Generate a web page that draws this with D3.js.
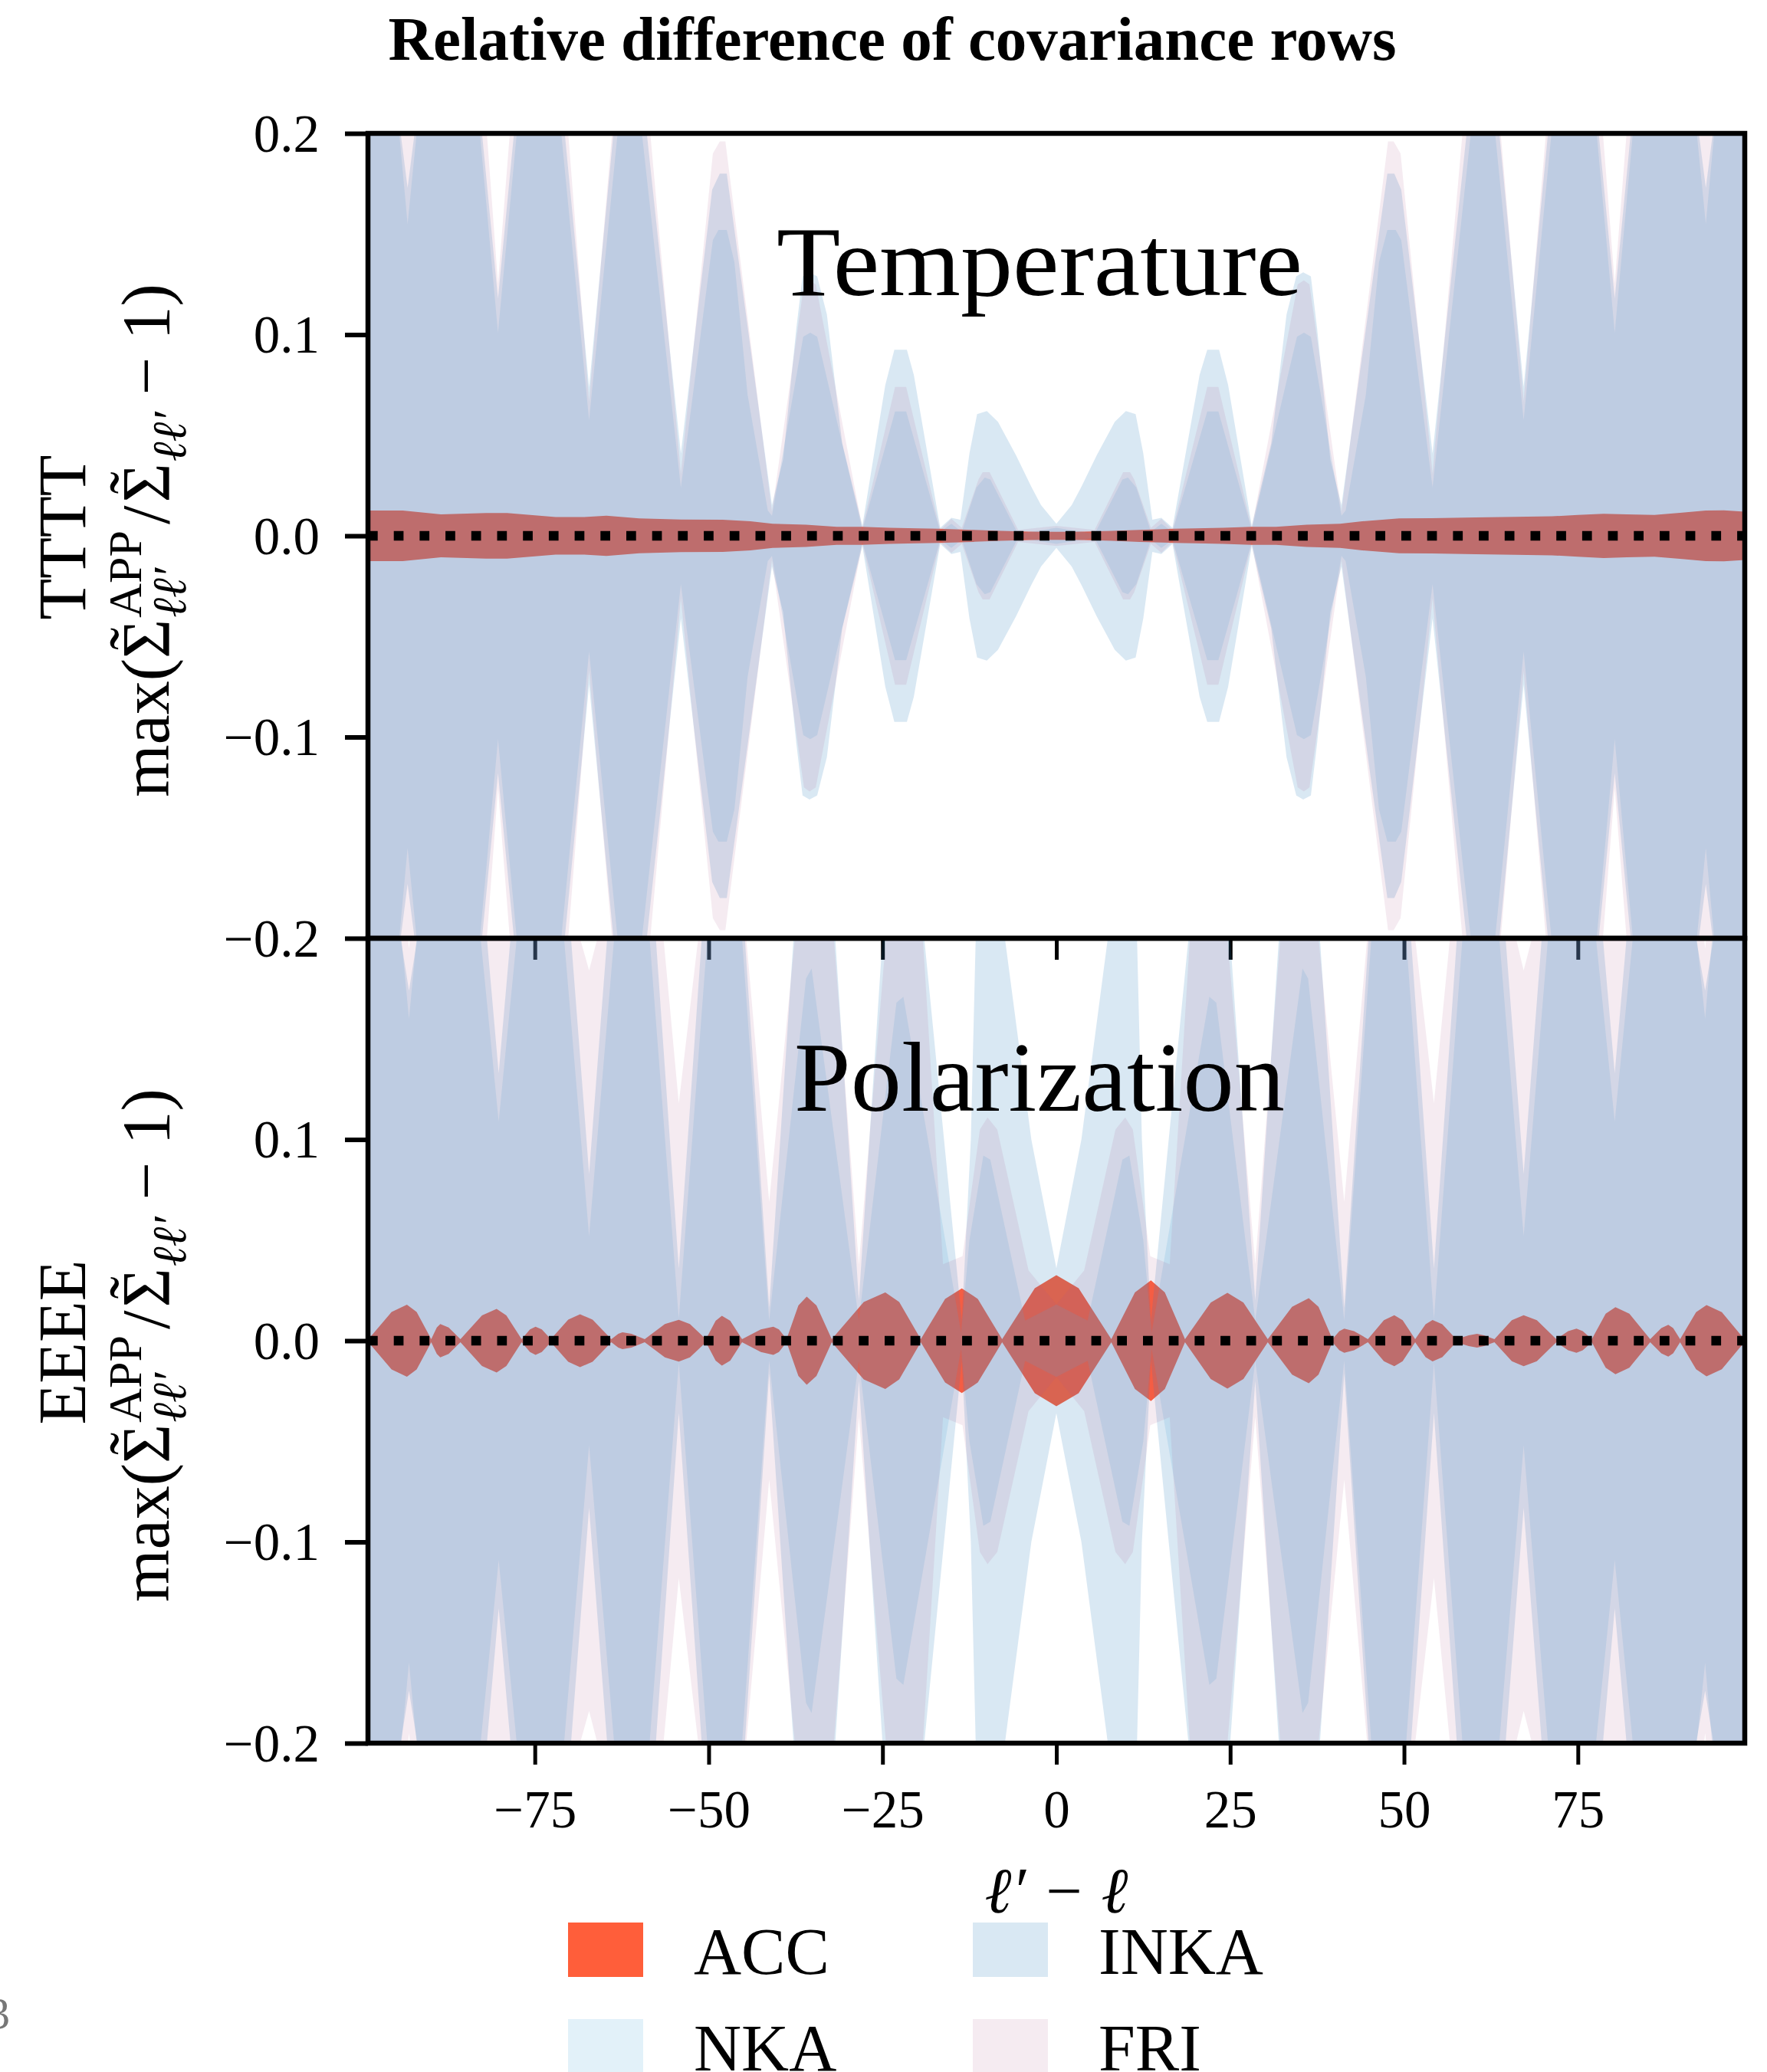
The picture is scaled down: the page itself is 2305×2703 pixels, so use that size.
<!DOCTYPE html>
<html>
<head>
<meta charset="utf-8">
<title>Relative difference of covariance rows</title>
<script src="https://cdnjs.cloudflare.com/ajax/libs/d3/7.8.5/d3.min.js"></script>
<style>
  body { margin: 0; background: #fff; }
  svg { display: block; }
  text { font-family: "Liberation Serif", "DejaVu Serif", serif; fill: #000; }
</style>
</head>
<body>
<script>
// half-widths of the symmetric bands, [l' - l, value]
var ttACC = [[-99,0.0126],[-94,0.0126],[-88.5,0.0107],[-82,0.0113],[-79,0.0113],[-72,0.0093],[-68,0.0093],[-64.7,0.0100],[-60,0.0087],[-54,0.0081],[-48,0.008],[-44,0.0072],[-40.8,0.006],[-36,0.0055],[-31.6,0.0045],[-28,0.0045],[-24,0.004],[-20,0.0037],[-16.9,0.0035],[-12,0.003],[-8,0.0025],[-4,0.0021],[0,0.002],[4,0.0021],[8,0.0025],[12,0.003],[16.9,0.0035],[20,0.0037],[24,0.004],[28,0.0045],[31.6,0.0045],[36,0.0055],[40.8,0.006],[44,0.0072],[49.3,0.0087],[54,0.0088],[60.3,0.0091],[66,0.0094],[71.3,0.0097],[75,0.0104],[78.7,0.011],[82,0.0107],[86,0.0104],[90,0.0115],[93.4,0.0126],[96,0.0127],[99,0.012]];

var ttNKA = [[-99,0.34],[-94.5,0.2],[-93.3,0.155],[-92.0,0.2],[-86.8,0.34],[-82.9,0.2],[-80.3,0.101],[-77.6,0.2],[-73.7,0.34],[-71.2,0.2],[-67.2,0.0575],[-63.1,0.2],[-60.6,0.34],[-59.6,0.2],[-54.0,0.024],[-49.4,0.147],[-48.6,0.152],[-47.4,0.152],[-46.3,0.136],[-44.4,0.070],[-41.5,0.0126],[-40.9,0.010],[-36.4,0.099],[-35.4,0.101],[-34.4,0.099],[-27.9,0.003],[-23.2,0.0618],[-21.6,0.0618],[-16.7,0.002],[-15.1,0.006],[-13.6,0.002],[-11.5,0.024],[-10.3,0.029],[-9.5,0.028],[-5.5,0.001],[0,0.004],[5.5,0.001],[9.5,0.028],[10.3,0.029],[11.5,0.024],[13.6,0.002],[15.1,0.006],[16.7,0.002],[21.7,0.0618],[23.3,0.0618],[28.1,0.003],[34.6,0.099],[35.6,0.101],[36.6,0.099],[41.0,0.010],[41.6,0.0126],[44.5,0.070],[46.4,0.136],[47.6,0.152],[48.8,0.152],[49.6,0.147],[54.1,0.024],[59.6,0.2],[60.7,0.34],[63.1,0.2],[67.2,0.0575],[71.2,0.2],[73.8,0.34],[77.7,0.2],[80.3,0.101],[82.9,0.2],[86.9,0.34],[92.1,0.2],[93.4,0.155],[94.6,0.2],[99,0.34]];

var ttINKA = [[-99,0.34],[-94.3,0.2],[-93.3,0.173],[-92.3,0.2],[-86.8,0.34],[-82.6,0.2],[-80.3,0.118],[-78.0,0.2],[-73.7,0.34],[-70.7,0.2],[-67.2,0.074],[-63.7,0.2],[-60.6,0.34],[-58.9,0.2],[-54.0,0.041],[-49.5,0.172],[-48.4,0.18],[-47.4,0.18],[-40.9,0.0152],[-39.3,0.038],[-37.4,0.103],[-36.5,0.129],[-35.5,0.131],[-34.4,0.129],[-33.0,0.11],[-30.8,0.046],[-27.9,0.005],[-24.6,0.075],[-23.3,0.0925],[-21.5,0.0925],[-20.5,0.08],[-16.7,0.004],[-15.1,0.009],[-13.8,0.008],[-12.5,0.041],[-11.4,0.0605],[-10.0,0.062],[-8.4,0.0567],[-5.8,0.040],[-3.6,0.0244],[-2.2,0.0152],[0,0.006],[2.2,0.0152],[3.6,0.0244],[5.8,0.040],[8.4,0.0567],[10.0,0.062],[11.4,0.0605],[12.5,0.041],[13.8,0.008],[15.1,0.009],[16.7,0.004],[20.6,0.08],[21.7,0.0925],[23.4,0.0925],[24.7,0.075],[28.1,0.005],[30.9,0.046],[33.1,0.11],[34.5,0.129],[35.5,0.131],[36.6,0.129],[37.5,0.103],[39.4,0.038],[41.0,0.0152],[47.6,0.18],[48.6,0.18],[49.6,0.172],[54.1,0.041],[59.0,0.2],[60.6,0.34],[63.7,0.2],[67.2,0.074],[70.7,0.2],[73.8,0.34],[78.0,0.2],[80.3,0.118],[82.6,0.2],[86.9,0.34],[92.4,0.2],[93.4,0.173],[94.4,0.2],[99,0.34]];

var ttFRI = [[-99,0.34],[-93.3,0.22],[-86.8,0.34],[-81.9,0.2],[-80.3,0.1254],[-78.6,0.2],[-73.7,0.34],[-70.2,0.2],[-67.2,0.067],[-63.9,0.2],[-60.6,0.34],[-58.4,0.2],[-54.0,0.031],[-49.4,0.19],[-48.4,0.196],[-47.6,0.196],[-40.9,0.012],[-36.3,0.125],[-35.5,0.127],[-34.6,0.125],[-27.9,0.004],[-23.2,0.074],[-21.6,0.074],[-16.7,0.003],[-15.1,0.0085],[-13.6,0.004],[-11.2,0.028],[-10.6,0.0316],[-9.6,0.0316],[-5.5,0.003],[0,0.005],[5.5,0.003],[9.6,0.0316],[10.6,0.0316],[11.2,0.028],[13.6,0.004],[15.1,0.0085],[16.7,0.003],[21.7,0.074],[23.3,0.074],[28.1,0.004],[34.7,0.125],[35.6,0.127],[36.4,0.125],[41.0,0.012],[47.7,0.196],[48.5,0.196],[49.5,0.19],[54.1,0.031],[58.4,0.2],[60.7,0.34],[63.9,0.2],[67.2,0.067],[70.4,0.2],[73.8,0.34],[78.6,0.2],[80.3,0.1254],[82.0,0.2],[86.9,0.34],[93.4,0.22],[99,0.34]];

var eeACC = [[-99,0.0005],[-95.6,0.0143],[-93.4,0.0179],[-92.0,0.0143],[-89.9,0.0008],[-89.1,0.0066],[-88.6,0.0083],[-87.4,0.0066],[-85.7,0.0008],[-82.6,0.0126],[-80.5,0.0158],[-79.1,0.0126],[-76.9,0.0008],[-75.7,0.0056],[-74.9,0.007],[-74.0,0.0056],[-72.7,0.0008],[-70.2,0.0105],[-68.5,0.0131],[-66.7,0.0105],[-64.0,0.0008],[-63.0,0.0034],[-62.4,0.0042],[-61.1,0.0034],[-59.2,0.0008],[-56.3,0.0083],[-54.3,0.0104],[-52.7,0.0083],[-50.4,0.0008],[-49.0,0.0099],[-48.1,0.0124],[-46.9,0.0099],[-45.2,0.0008],[-42.5,0.0056],[-40.7,0.007],[-39.9,0.0056],[-38.8,0.0008],[-37.1,0.0175],[-35.9,0.0219],[-34.5,0.0175],[-32.3,0.0008],[-27.7,0.0192],[-24.6,0.024],[-22.6,0.0192],[-19.5,0.0008],[-16.0,0.0208],[-13.6,0.026],[-11.3,0.0208],[-7.8,0.0008],[-3.1,0.0261],[0,0.0326],[3.2,0.0261],[7.9,0.0008],[11.3,0.024],[13.6,0.030],[15.6,0.024],[18.5,0.0008],[22.2,0.019],[24.6,0.0238],[26.9,0.019],[30.4,0.0008],[33.9,0.0169],[36.3,0.0211],[37.7,0.0169],[39.7,0.0008],[40.7,0.0048],[41.4,0.006],[42.8,0.0048],[44.8,0.0008],[47.1,0.0102],[48.6,0.0127],[49.8,0.0102],[51.6,0.0008],[53.1,0.0082],[54.1,0.0103],[55.5,0.0082],[57.5,0.0008],[59.3,0.0027],[60.5,0.0034],[61.5,0.0027],[63.0,0.0008],[65.5,0.0102],[67.2,0.0127],[69.1,0.0102],[71.9,0.0008],[73.6,0.0048],[74.8,0.006],[75.7,0.0048],[77.0,0.0008],[79.0,0.0134],[80.4,0.0167],[82.4,0.0134],[85.4,0.0008],[87.0,0.0063],[88.0,0.0079],[88.7,0.0063],[89.7,0.0008],[92.0,0.0142],[93.5,0.0177],[95.7,0.0142],[99,0.0005]];

var eeNKA = [[-99,0.34],[-94.2,0.2],[-93.1,0.16],[-92.0,0.2],[-86.6,0.34],[-82.8,0.2],[-80.2,0.109],[-77.6,0.2],[-73.7,0.34],[-70.8,0.2],[-67.2,0.052],[-63.6,0.2],[-60.8,0.34],[-58.5,0.2],[-54.3,0.011],[-50.2,0.2],[-47.8,0.34],[-45.2,0.2],[-41.3,0.01],[-36.0,0.18],[-35.2,0.185],[-28.4,0.01],[-23.0,0.168],[-22.0,0.171],[-13.7,0.004],[-12.5,0.05],[-10.5,0.092],[-9.5,0.09],[-4.5,0.01],[0,0.018],[4.5,0.01],[9.5,0.09],[10.5,0.092],[12.5,0.05],[13.7,0.004],[22.0,0.171],[23.0,0.168],[28.6,0.01],[35.4,0.185],[36.2,0.18],[41.4,0.01],[45.3,0.2],[47.9,0.34],[50.3,0.2],[54.3,0.011],[58.4,0.2],[60.8,0.34],[63.7,0.2],[67.2,0.052],[70.7,0.2],[73.8,0.34],[77.6,0.2],[80.3,0.109],[82.9,0.2],[86.7,0.34],[92.1,0.2],[93.3,0.16],[94.3,0.2],[99,0.34]];

var eeINKA = [[-99,0.34],[-94.3,0.2],[-93.1,0.174],[-91.9,0.2],[-86.6,0.34],[-81.9,0.2],[-80.2,0.133],[-78.5,0.2],[-73.7,0.34],[-69.8,0.2],[-67.2,0.083],[-64.6,0.2],[-60.8,0.34],[-57.6,0.2],[-54.3,0.036],[-51.0,0.2],[-47.8,0.34],[-44.8,0.2],[-41.3,0.0165],[-37.8,0.2],[-35.0,0.34],[-31.8,0.2],[-28.4,0.02],[-25.0,0.2],[-22.0,0.34],[-19.0,0.2],[-13.6,0.01],[-12.3,0.1],[-11.6,0.2],[-10.0,0.34],[-7.4,0.2],[-3.6,0.1],[0,0.036],[3.6,0.1],[7.4,0.2],[10,0.34],[11.6,0.2],[12.3,0.1],[13.6,0.01],[19.0,0.2],[22,0.34],[25,0.2],[28.6,0.02],[32,0.2],[35.2,0.34],[37.9,0.2],[41.4,0.0165],[44.9,0.2],[47.9,0.34],[51,0.2],[54.3,0.036],[57.6,0.2],[60.8,0.34],[64.6,0.2],[67.2,0.083],[69.8,0.2],[73.8,0.34],[78.6,0.2],[80.3,0.133],[82.0,0.2],[86.7,0.34],[92,0.2],[93.3,0.174],[94.5,0.2],[99,0.34]];

var eeFRI = [[-99,0.34],[-93.8,0.22],[-93.1,0.195],[-92.4,0.22],[-86.6,0.34],[-80.2,0.25],[-73.7,0.34],[-68.5,0.2],[-67.2,0.184],[-66.0,0.2],[-60.8,0.34],[-56.5,0.2],[-54.3,0.118],[-51.5,0.2],[-47.8,0.34],[-44.6,0.2],[-41.3,0.069],[-37.6,0.2],[-35.0,0.34],[-32.0,0.2],[-28.4,0.038],[-24.5,0.2],[-22.0,0.3],[-19.2,0.2],[-16.3,0.038],[-13.5,0.042],[-11.0,0.105],[-9.9,0.111],[-8.5,0.105],[-4,0.035],[0,0.018],[4,0.035],[8.5,0.105],[9.9,0.111],[11.0,0.105],[13.5,0.042],[16.3,0.038],[19.2,0.2],[22,0.3],[24.6,0.2],[28.6,0.038],[32.2,0.2],[35.2,0.34],[37.7,0.2],[41.4,0.069],[44.7,0.2],[47.9,0.34],[51.6,0.2],[54.3,0.118],[56.6,0.2],[60.8,0.34],[66.1,0.2],[67.2,0.184],[68.4,0.2],[73.8,0.34],[80.3,0.25],[86.7,0.34],[92.5,0.22],[93.3,0.195],[94.1,0.22],[99,0.34]];

var seriesNames = ['ACC', 'NKA', 'INKA', 'FRI'];
var seriesColors = ['#ff5e3a', '#5fb0e0', '#2f7fbf', '#b05a88'];
var seriesAlpha = [1, 0.18, 0.18, 0.12];
var xTicks = [-75, -50, -25, 0, 25, 50, 75];
var yTicksTop = [-0.2, -0.1, 0.0, 0.1, 0.2];
var yTicksBottom = [-0.2, -0.1, 0.0, 0.1];

var W = 2305, H = 2703;
var svg = d3.select('body').append('svg').attr('width', W).attr('height', H);
svg.append('rect').attr('width', W).attr('height', H).attr('fill', '#fff');

var x = d3.scaleLinear().domain([-99, 99]).range([480, 2276]);
var MAIN = 88, SCRIPT = 62;

var panels = [
  { id: 'tt', top: 174, bottom: 1224, yTicks: yTicksTop, label: 'TTTT', name: 'Temperature', nameY: 385, nameW: 686,
    data: [ttACC, ttNKA, ttINKA, ttFRI] },
  { id: 'ee', top: 1224, bottom: 2274, yTicks: yTicksBottom, label: 'EEEE', name: 'Polarization', nameY: 1449, nameW: 640,
    data: [eeACC, eeNKA, eeINKA, eeFRI] }
];

svg.append('text')
  .attr('x', 1164).attr('y', 78)
  .attr('text-anchor', 'middle')
  .style('font-size', '81px').style('font-weight', 'bold')
  .text('Relative difference of covariance rows');

panels.forEach(function(p, pi) {
  var y = d3.scaleLinear().domain([-0.2, 0.2]).range([p.bottom, p.top]);
  var g = svg.append('g');

  g.append('clipPath').attr('id', 'clip-' + p.id)
    .append('rect').attr('x', x(-99)).attr('y', p.top)
    .attr('width', x(99) - x(-99)).attr('height', p.bottom - p.top);

  var plot = g.append('g').attr('clip-path', 'url(#clip-' + p.id + ')');

  var area = d3.area()
    .x(function(d) { return x(d[0]); })
    .y0(function(d) { return y(-d[1]); })
    .y1(function(d) { return y(d[1]); })
    .curve(d3.curveLinear);

  p.data.forEach(function(s, i) {
    plot.append('path')
      .datum(s)
      .attr('d', area)
      .attr('fill', seriesColors[i])
      .attr('fill-opacity', seriesAlpha[i]);
  });

  plot.append('line')
    .attr('x1', x(-99)).attr('x2', x(99))
    .attr('y1', y(0)).attr('y2', y(0))
    .attr('stroke', '#000').attr('stroke-width', 12.7)
    .attr('stroke-dasharray', '12.7,21');

  g.append('text')
    .attr('x', 1356).attr('y', p.nameY)
    .attr('text-anchor', 'middle')
    .attr('textLength', p.nameW).attr('lengthAdjust', 'spacingAndGlyphs')
    .style('font-size', '130px')
    .text(p.name);

  // y axis
  var yAxis = d3.axisLeft(y).tickValues(p.yTicks).tickSize(30).tickPadding(33)
    .tickFormat(d3.format('.1f'));
  var ya = g.append('g').attr('transform', 'translate(480,0)').call(yAxis);
  ya.select('.domain').remove();
  ya.selectAll('line').attr('stroke', '#000').attr('stroke-width', 6);
  ya.selectAll('text').style('font-size', '69px').attr('dy', '0.34em')
    .style('font-family', '"Liberation Serif", serif');

  // x axis
  var xAxis = d3.axisBottom(x).tickValues(xTicks).tickSize(28).tickPadding(33);
  if (pi === 0) xAxis.tickFormat('');
  var xa = g.append('g').attr('transform', 'translate(0,' + p.bottom + ')').call(xAxis);
  xa.select('.domain').remove();
  xa.selectAll('line').attr('stroke', '#000').attr('stroke-width', 5);
  xa.selectAll('text').style('font-size', '69px')
    .style('font-family', '"Liberation Serif", serif');

  // frame
  g.append('rect')
    .attr('x', x(-99)).attr('y', p.top)
    .attr('width', x(99) - x(-99)).attr('height', p.bottom - p.top)
    .attr('fill', 'none').attr('stroke', '#000').attr('stroke-width', 6.5);

  // y label: two lines
  var cy = (p.top + p.bottom) / 2 + 2;
  g.append('text')
    .attr('transform', 'translate(111,' + cy + ') rotate(-90)')
    .attr('text-anchor', 'middle')
    .style('font-size', MAIN + 'px')
    .text(p.label);
  mathLabel(g, 220, cy + 4);
});

function mathLabel(parent, bx, cy) {
  var g = parent.append('g').attr('transform', 'translate(' + bx + ',' + cy + ') rotate(-90)');
  var inner = g.append('g');
  var cur = 0;
  function piece(t, size, dy, italic) {
    var el = inner.append('text')
      .attr('x', cur).attr('y', dy)
      .style('font-size', size + 'px')
      .style('font-style', italic ? 'italic' : 'normal')
      .text(t);
    return el.node().getComputedTextLength();
  }
  function sigma() {
    var w = piece('\u03A3', MAIN, 0);
    inner.append('text')
      .attr('x', cur + w / 2).attr('y', -16)
      .attr('text-anchor', 'middle')
      .style('font-size', MAIN + 'px')
      .text('\u02DC');
    cur += w + 2;
  }
  cur += piece('max(', MAIN, 0);
  sigma();
  var w1 = piece('APP', SCRIPT, -36, false);
  var w2 = piece('\u2113\u2113\u2032', SCRIPT, 22, true);
  cur += Math.max(w1, w2) + 8;
  cur += piece('/', MAIN, 0) + 4;
  sigma();
  cur += piece('\u2113\u2113\u2032', SCRIPT, 22, true) + 22;
  cur += piece('\u2212 1)', MAIN, 0);
  inner.attr('transform', 'translate(' + (-cur / 2) + ',0)');
}

// x label
svg.append('text')
  .attr('x', 1378).attr('y', 2495)
  .attr('text-anchor', 'middle')
  .style('font-size', '84px').style('font-style', 'italic')
  .text('\u2113\u2032 \u2212 \u2113');

// legend, two columns filled column-first
var legendPos = [[741, 2508], [741, 2634], [1269, 2508], [1269, 2634]];
seriesNames.forEach(function(n, i) {
  var pos = legendPos[i];
  svg.append('rect')
    .attr('x', pos[0]).attr('y', pos[1])
    .attr('width', 98).attr('height', 71)
    .attr('fill', seriesColors[i]).attr('fill-opacity', seriesAlpha[i]);
  svg.append('text')
    .attr('x', pos[0] + 164).attr('y', pos[1] + 67)
    .style('font-size', '86px')
    .text(n);
});

// stray page mark at the left edge
svg.append('text')
  .attr('x', 13).attr('y', 2646)
  .attr('text-anchor', 'end')
  .style('font-size', '58px')
  .style('fill', '#777')
  .text('3');
</script>
</body>
</html>
